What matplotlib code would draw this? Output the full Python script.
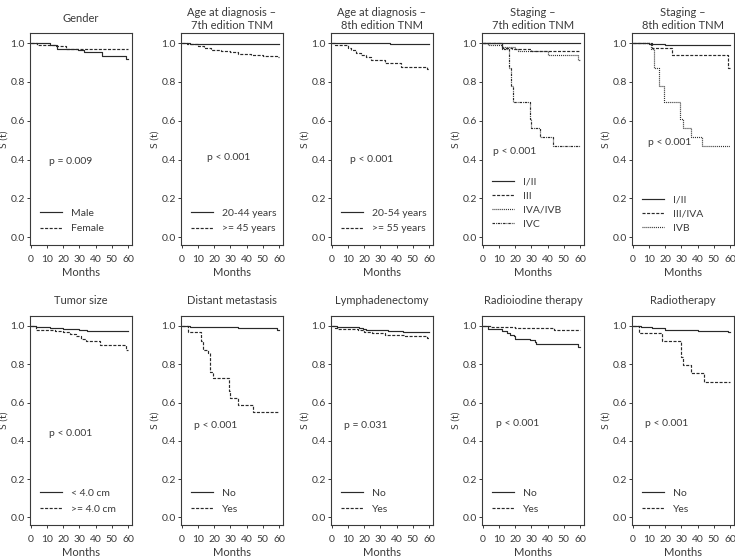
import matplotlib
matplotlib.use("Agg")
import matplotlib.pyplot as plt

plt.rcParams['font.family'] = ['Lato', 'DejaVu Sans']
plt.rcParams['lines.scale_dashes'] = False

# ---------------- data ----------------
months_ticks = [0, 10, 20, 30, 40, 50, 60]
surv_ticks = [0.0, 0.2, 0.4, 0.6, 0.8, 1.0]

# Panel 1: Gender
male_t = [0, 12, 16, 29, 33, 44, 59, 60]
male_s = [1.0, 0.99, 0.971, 0.962, 0.952, 0.932, 0.917, 0.917]
female_t = [0, 4, 15, 22, 60]
female_s = [1.0, 0.99, 0.983, 0.972, 0.972]

# Panel 2: Age 7th
age7_young_t = [0, 5, 60]
age7_young_s = [1.0, 0.995, 0.995]
age7_old_t = [0, 3, 10, 14, 18, 24, 30, 35, 43, 50, 59, 60]
age7_old_s = [1.0, 0.995, 0.986, 0.977, 0.966, 0.96, 0.952, 0.945, 0.94, 0.935, 0.928, 0.928]

# Panel 3: Age 8th
age8_young_t = [0, 36, 60]
age8_young_s = [1.0, 0.997, 0.997]
age8_old_t = [0, 2, 10, 12, 15, 18, 21, 24, 33, 43, 59, 60]
age8_old_s = [1.0, 0.988, 0.975, 0.962, 0.95, 0.94, 0.93, 0.915, 0.897, 0.876, 0.866, 0.866]

# Panel 4: Staging 7th
st7_i_t = [0, 60]
st7_i_s = [1.0, 1.0]
st7_iii_t = [0, 12, 18, 30, 60]
st7_iii_s = [1.0, 0.975, 0.97, 0.958, 0.958]
st7_iva_t = [0, 3, 12, 20, 22, 40, 59, 60]
st7_iva_s = [1.0, 0.99, 0.98, 0.97, 0.957, 0.94, 0.915, 0.915]
st7_ivc_t = [0, 12, 16, 17.5, 18.5, 29, 30, 35.5, 43.5, 60]
st7_ivc_s = [1.0, 0.97, 0.87, 0.78, 0.695, 0.61, 0.565, 0.515, 0.472, 0.472]

# Panel 5: Staging 8th
st8_i_t = [0, 10, 20, 35, 60]
st8_i_s = [1.0, 0.995, 0.99, 0.988, 0.988]
st8_iii_t = [0, 12, 24, 59, 60]
st8_iii_s = [1.0, 0.975, 0.94, 0.874, 0.874]
st8_ivb_t = [0, 11, 13, 16, 19, 29, 31, 36, 43, 60]
st8_ivb_s = [1.0, 0.97, 0.87, 0.78, 0.695, 0.61, 0.565, 0.515, 0.47, 0.47]

# Panel 6: Tumor size
tum_small_t = [0, 3, 12, 20, 30, 35, 60]
tum_small_s = [1.0, 0.995, 0.989, 0.985, 0.98, 0.975, 0.975]
tum_big_t = [0, 3, 15, 20, 24, 28, 31, 34, 43, 59, 60]
tum_big_s = [1.0, 0.979, 0.975, 0.966, 0.957, 0.945, 0.932, 0.92, 0.898, 0.873, 0.873]

# Panel 7: Distant metastasis
dm_no_t = [0, 5, 15, 35, 59, 60]
dm_no_s = [1.0, 0.996, 0.993, 0.99, 0.98, 0.98]
dm_yes_t = [0, 4, 12, 13, 16, 17.5, 19, 29, 30, 35, 44, 60]
dm_yes_s = [1.0, 0.967, 0.92, 0.873, 0.86, 0.76, 0.726, 0.66, 0.622, 0.588, 0.548, 0.548]

# Panel 8: Lymphadenectomy
ly_no_t = [0, 3, 17, 19, 21, 35, 44, 60]
ly_no_s = [1.0, 0.995, 0.99, 0.985, 0.979, 0.975, 0.971, 0.971]
ly_yes_t = [0, 2, 4, 16, 20, 25, 33, 45, 59, 60]
ly_yes_s = [1.0, 0.99, 0.985, 0.977, 0.97, 0.963, 0.955, 0.945, 0.935, 0.935]

# Panel 9: Radioiodine therapy
rai_no_t = [0, 3, 12, 15, 17, 19, 20, 29, 32, 33, 59, 60]
rai_no_s = [1.0, 0.984, 0.975, 0.965, 0.955, 0.945, 0.933, 0.925, 0.915, 0.905, 0.89, 0.89]
rai_yes_t = [0, 5, 20, 44, 60]
rai_yes_s = [1.0, 0.995, 0.99, 0.979, 0.979]

# Panel 10: Radiotherapy
rt_no_t = [0, 5, 12, 20, 25, 40, 59, 60]
rt_no_s = [1.0, 0.995, 0.99, 0.98, 0.978, 0.975, 0.97, 0.97]
rt_yes_t = [0, 4, 18, 30, 31, 36, 44, 60]
rt_yes_s = [1.0, 0.962, 0.921, 0.838, 0.795, 0.756, 0.706, 0.706]

titles = ["Gender", "Age at diagnosis \u2013\n7th edition TNM", "Age at diagnosis \u2013\n8th edition TNM",
          "Staging \u2013\n7th edition TNM", "Staging \u2013\n8th edition TNM",
          "Tumor size", "Distant metastasis", "Lymphadenectomy", "Radioiodine therapy", "Radiotherapy"]
pvalues = ["p = 0.009", "p < 0.001", "p < 0.001", "p < 0.001", "p < 0.001",
           "p < 0.001", "p < 0.001", "p = 0.031", "p < 0.001", "p < 0.001"]

SOLID = '-'
DASH = (0, (2.2, 1.1))
DOT = (0, (0.7, 0.7))
DASHDOT = (0, (1.8, 0.7, 0.6, 0.7))

panels = [
    [(male_t, male_s, "Male", SOLID), (female_t, female_s, "Female", DASH)],
    [(age7_young_t, age7_young_s, "20-44 years", SOLID), (age7_old_t, age7_old_s, ">= 45 years", DASH)],
    [(age8_young_t, age8_young_s, "20-54 years", SOLID), (age8_old_t, age8_old_s, ">= 55 years", DASH)],
    [(st7_i_t, st7_i_s, "I/II", SOLID), (st7_iii_t, st7_iii_s, "III", DASH),
     (st7_iva_t, st7_iva_s, "IVA/IVB", DOT), (st7_ivc_t, st7_ivc_s, "IVC", DASHDOT)],
    [(st8_i_t, st8_i_s, "I/II", SOLID), (st8_iii_t, st8_iii_s, "III/IVA", DASH),
     (st8_ivb_t, st8_ivb_s, "IVB", DOT)],
    [(tum_small_t, tum_small_s, "< 4.0 cm", SOLID), (tum_big_t, tum_big_s, ">= 4.0 cm", DASH)],
    [(dm_no_t, dm_no_s, "No", SOLID), (dm_yes_t, dm_yes_s, "Yes", DASH)],
    [(ly_no_t, ly_no_s, "No", SOLID), (ly_yes_t, ly_yes_s, "Yes", DASH)],
    [(rai_no_t, rai_no_s, "No", SOLID), (rai_yes_t, rai_yes_s, "Yes", DASH)],
    [(rt_no_t, rt_no_s, "No", SOLID), (rt_yes_t, rt_yes_s, "Yes", DASH)],
]

# p-value text positions (months, survival)
p_pos = [(11.3, 0.39), (15.6, 0.41), (11.3, 0.40), (6.4, 0.44), (9.5, 0.486),
         (11.5, 0.437), (7.6, 0.48), (7.8, 0.48), (8.0, 0.49), (7.6, 0.49)]

# ---------------- layout ----------------
W, H = 735, 560
fig = plt.figure(figsize=(W / 100, H / 100), dpi=100)
lefts_px = [30, 181, 331, 482, 632]
width_px = 102
rows_px = [(33, 245), (316, 525)]
title_px = [19, 301]

TXT = '#3a3a3a'
LINE = '#2a2a2a'

for i, curves in enumerate(panels):
    r, c = divmod(i, 5)
    top, bot = rows_px[r]
    ax = fig.add_axes([lefts_px[c] / W, 1 - bot / H, width_px / W, (bot - top) / H])
    handles = []
    for t, s, lab, ls in curves:
        h, = ax.plot(t, s, drawstyle='steps-post', color=LINE, lw=0.85, linestyle=ls, label=lab)
        handles.append(h)
    ax.set_xlim(-0.5, 62.5)
    ax.set_ylim(-0.04, 1.052)
    ax.set_xticks(months_ticks)
    ax.set_yticks(surv_ticks)
    ax.set_yticklabels([f"{v:.1f}" for v in surv_ticks])
    ax.tick_params(direction='out', length=2.4, width=0.7, labelsize=7.5, colors=TXT)
    ax.tick_params(axis='x', pad=4.8)
    ax.tick_params(axis='y', pad=1.2)
    for sp in ax.spines.values():
        sp.set_color(TXT)
        sp.set_linewidth(0.8)
    ax.set_xlabel("Months", fontsize=8, color=TXT, labelpad=2)
    ax.set_ylabel("S (t)", fontsize=7.5, color=TXT, labelpad=1.5)
    title_y = 1 + (top - title_px[r]) / (bot - top)
    ax.text(0.5, title_y, titles[i], transform=ax.transAxes, ha='center', va='center',
            fontsize=8, color=TXT, linespacing=1.3)
    px, py = p_pos[i]
    ax.text(px, py, pvalues[i], fontsize=7.5, color=TXT, ha='left', va='center')
    n = len(curves)
    lsp = 0.62 if n == 2 else 0.47
    anchor_y = {2: 0.055, 3: 0.058, 4: 0.076}[n]
    ax.legend(handles=handles, loc='lower left', bbox_to_anchor=(0.10, anchor_y),
              frameon=False, fontsize=7.5, handlelength=2.1, handletextpad=0.9,
              labelspacing=lsp, borderpad=0, borderaxespad=0, labelcolor=TXT)

fig.savefig("out.png", dpi=100)
